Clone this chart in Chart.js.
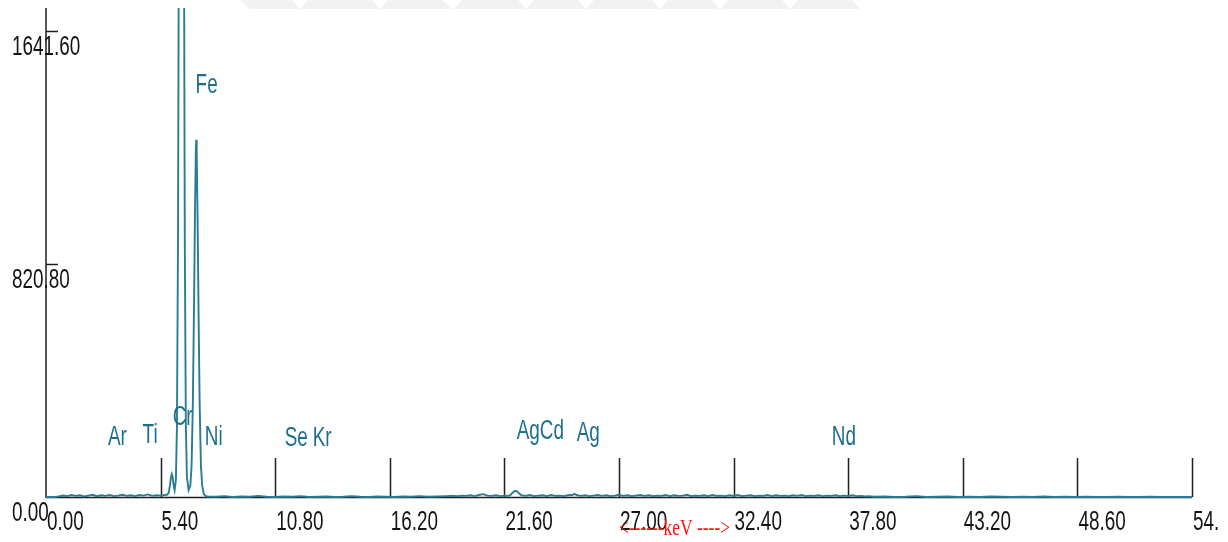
<!DOCTYPE html>
<html>
<head>
<meta charset="utf-8">
<script src="https://cdn.jsdelivr.net/npm/chart.js@4.4.1/dist/chart.umd.min.js"></script>
<style>
  html, body { margin: 0; padding: 0; background: #ffffff; }
  #wrap { width: 1228px; height: 542px; position: relative; }
</style>
</head>
<body>
<div id="wrap"><canvas id="spectrum" width="1228" height="542"></canvas></div>
<script>
// EDS spectrum: energy (keV) and counts per channel
const energyKeV = [
  0.0, 0.4, 0.6, 0.8, 1.0, 1.2, 1.4, 1.6, 1.8, 2.0, 2.2, 2.4, 2.6, 2.8, 3.0, 3.2, 3.4, 3.6, 3.8, 4.0, 4.2, 4.4, 4.6, 4.8, 5.0, 5.2, 5.4, 5.6,
  5.70, 5.78, 5.84, 5.89, 5.93, 5.97, 6.01, 6.06,
  6.12, 6.17, 6.22, 6.27, 6.32, 6.36, 6.38, 6.40, 6.44, 6.49, 6.54, 6.59, 6.64, 6.72,
  6.80, 6.86, 6.92, 6.97, 7.02, 7.06, 7.08, 7.10, 7.14, 7.19, 7.24, 7.30, 7.36, 7.44, 7.52,
  7.6, 8.0, 8.4, 8.8, 9.2, 9.6, 10.0, 10.4, 10.8, 11.2,
  11.6, 12.0, 12.4, 12.8, 13.2, 13.6, 14.0, 14.4, 14.8, 15.2,
  15.6, 16.0, 16.4, 16.8, 17.2, 17.6, 18.0, 18.4, 18.8, 19.2,
  19.4, 19.6, 19.8, 20.0, 20.2, 20.4, 20.6, 20.8, 21.0, 21.2,
  21.4, 21.6, 21.8, 21.9, 22.0, 22.1, 22.2, 22.3, 22.4, 22.6,
  22.8, 23.0, 23.2, 23.4, 23.6, 23.8, 24.0, 24.2, 24.4, 24.6,
  24.8, 24.9, 25.0, 25.2, 25.4, 25.6, 25.8, 26.0, 26.2, 26.4,
  26.6, 26.8, 27.0, 27.2, 27.4, 27.6, 27.8, 28.0, 28.2, 28.4,
  28.6, 28.8, 29.0, 29.2, 29.4, 29.6, 29.8, 30.0, 30.2, 30.4,
  30.6, 30.8, 31.0, 31.2, 31.4, 31.6, 31.8, 32.0, 32.2, 32.4,
  32.6, 32.8, 33.0, 33.2, 33.4, 33.6, 33.8, 34.0, 34.2, 34.4,
  34.6, 34.8, 35.0, 35.2, 35.4, 35.6, 35.8, 36.0, 36.2, 36.4,
  36.6, 36.8, 37.0, 37.2, 37.4, 37.6, 37.8, 38.0, 38.2, 38.4,
  38.6, 38.8,
  39.0, 39.5, 40.0, 40.5, 41.0, 41.5, 42.0, 42.5, 43.0, 43.5,
  44.0, 44.5, 45.0, 45.5, 46.0, 46.5, 47.0, 47.5, 48.0, 48.5,
  49.0, 49.5, 50.0, 50.5, 51.0, 51.5, 52.0, 52.5, 53.0, 53.5,
  54.0
];
const counts = [
  0, 0, 2, 5, 3, 7, 4, 6, 2, 5, 8, 3, 6, 4, 7, 3, 5, 8, 4, 6, 3, 7, 5, 9, 4, 6, 5, 7,
  8, 14, 40, 70, 81, 70, 42, 24,
  60, 250, 900, 2300, 4300, 5600, 5750, 5600, 4300, 2300, 900, 250, 70, 24,
  40, 110, 330, 640, 1000, 1220, 1258, 1220, 1000, 640, 330, 110, 40, 10, 4,
  2, 1, 3, 0, 2, 1, 4, 1, 0, 2,
  1, 3, 0, 1, 2, 0, 1, 3, 1, 0,
  2, 1, 0, 2, 1, 3, 1, 2, 3, 4,
  3, 5, 4, 6, 3, 7, 10, 5, 4, 6,
  3, 5, 4, 8, 16, 22, 20, 12, 6, 4,
  7, 3, 5, 6, 3, 7, 4, 5, 3, 6,
  7, 11, 7, 4, 6, 3, 5, 7, 4, 6,
  3, 5, 8, 4, 6, 3, 5, 7, 4, 6,
  3, 5, 4, 7, 3, 6, 4, 5, 8, 3,
  5, 4, 6, 3, 7, 4, 5, 3, 6, 4,
  7, 3, 5, 6, 3, 5, 4, 7, 3, 6,
  4, 5, 3, 6, 4, 7, 3, 5, 4, 6,
  3, 5, 4, 6, 3, 5, 4, 6, 3, 4,
  2, 3,
  1, 2, 0, 1, 3, 0, 1, 2, 0, 1,
  0, 2, 1, 0, 1, 0, 2, 0, 1, 0,
  1, 0, 0, 1, 0, 0, 1, 0, 0, 0,
  0
];

// Axis ticks
const yTickValues = [0, 820.80, 1641.60];
const xTickValues = [0, 5.4, 10.8, 16.2, 21.6, 27.0, 32.4, 37.8, 43.2, 48.6, 54.0];
const xTickLabels = ["0.00", "5.40", "10.80", "16.20", "21.60", "27.00", "32.40", "37.80", "43.20", "48.60", "54."];

// Element line markers: name, energy (keV), label height (counts)
const lineNames = ["Ar", "Ti", "Cr", "Fe", "Ni", "Se", "Kr", "Ag", "Cd", "Ag", "Nd"];
const lineKeV = [2.92, 4.55, 5.97, 7.05, 7.48, 11.25, 12.57, 22.18, 23.27, 25.01, 37.03];
const lineLabelCounts = [183, 190, 254, 1423, 183, 180, 180, 204, 204, 197, 183];

const axisLabel = "<------keV ---->";

const points = energyKeV.map((e, i) => ({ x: e, y: counts[i] }));

const SANS = '"Liberation Sans", Arial, sans-serif';
const SERIF = '"Liberation Serif", "Times New Roman", serif';

function narrowText(ctx, str, x, y, font, color, sx) {
  ctx.save();
  ctx.font = font;
  ctx.fillStyle = color;
  ctx.textAlign = 'left';
  ctx.textBaseline = 'alphabetic';
  ctx.translate(x, y);
  ctx.scale(sx, 1);
  ctx.fillText(str, 0, 0);
  ctx.restore();
}

const frame = {
  id: 'spectrumFrame',
  beforeDatasetsDraw(chart) {
    const ctx = chart.ctx;
    const xs = chart.scales.x, ys = chart.scales.y;
    const area = chart.chartArea;

    // faint band along the top edge
    ctx.save();
    ctx.fillStyle = '#f2f2f2';
    const bands = [[240, 292, 250, 300], [308, 372, 300, 380], [388, 442, 380, 452],
                   [462, 518, 454, 526], [534, 578, 526, 586], [594, 652, 586, 660],
                   [668, 712, 660, 720], [728, 782, 720, 790], [798, 852, 790, 860]];
    bands.forEach(b => {
      ctx.beginPath();
      ctx.moveTo(b[0], 0); ctx.lineTo(b[1], 0);
      ctx.lineTo(b[3], 9); ctx.lineTo(b[2], 9);
      ctx.closePath(); ctx.fill();
    });
    ctx.restore();

    ctx.save();
    ctx.strokeStyle = '#1e1e1e';
    ctx.lineWidth = 1.5;
    // energy axis baseline
    const y0 = ys.getPixelForValue(0);
    ctx.beginPath();
    ctx.moveTo(area.left, y0 + 0.5);
    ctx.lineTo(xs.getPixelForValue(54), y0 + 0.5);
    ctx.stroke();
    // counts axis
    ctx.beginPath();
    ctx.moveTo(area.left, area.top);
    ctx.lineTo(area.left, y0 + 1);
    ctx.stroke();
    // counts ticks
    yTickValues.forEach(v => {
      if (v === 0) return;
      const py = Math.round(ys.getPixelForValue(v)) + 0.5;
      ctx.beginPath();
      ctx.moveTo(area.left, py);
      ctx.lineTo(area.left + 12, py);
      ctx.stroke();
    });
    // energy ticks
    xTickValues.forEach(v => {
      if (v === 0) return;
      const px = Math.round(xs.getPixelForValue(v)) + 0.5;
      ctx.beginPath();
      ctx.moveTo(px, y0 - 39);
      ctx.lineTo(px, y0);
      ctx.stroke();
    });
    ctx.restore();
  },
  afterDraw(chart) {
    const ctx = chart.ctx;
    const xs = chart.scales.x, ys = chart.scales.y;
    const tickFont = '27px ' + SANS;

    yTickValues.forEach(v => {
      const py = ys.getPixelForValue(v);
      narrowText(ctx, v.toFixed(2), 12, py + 24, tickFont, '#141414', 0.7);
    });
    xTickValues.forEach((v, i) => {
      const px = xs.getPixelForValue(v);
      narrowText(ctx, xTickLabels[i], px + 1, 530, tickFont, '#141414', 0.7);
    });

    lineNames.forEach((name, i) => {
      narrowText(ctx, name, xs.getPixelForValue(lineKeV[i]), ys.getPixelForValue(lineLabelCounts[i]),
                 tickFont, '#1e6f8c', 0.7);
    });

    // energy axis caption
    ctx.save();
    ctx.font = '23px ' + SERIF;
    const w = ctx.measureText(axisLabel).width;
    ctx.restore();
    narrowText(ctx, axisLabel, 619, 535, '23px ' + SERIF, '#ff1010', 111 / w);
  }
};

new Chart(document.getElementById('spectrum'), {
  type: 'line',
  data: {
    datasets: [{
      data: points,
      borderColor: '#2a7c94',
      borderWidth: 1.9,
      pointRadius: 0,
      tension: 0,
      fill: false,
      clip: { left: 2, right: 2, top: 0, bottom: 4 }
    }]
  },
  options: {
    responsive: false,
    devicePixelRatio: 1,
    animation: false,
    events: [],
    layout: { padding: { left: 46, top: 8, right: 36, bottom: 45 } },
    scales: {
      x: { type: 'linear', min: 0, max: 54, display: false },
      y: { type: 'linear', min: 0, max: 1722.6, display: false }
    },
    plugins: { legend: { display: false }, tooltip: { enabled: false } }
  },
  plugins: [frame]
});
</script>
</body>
</html>
